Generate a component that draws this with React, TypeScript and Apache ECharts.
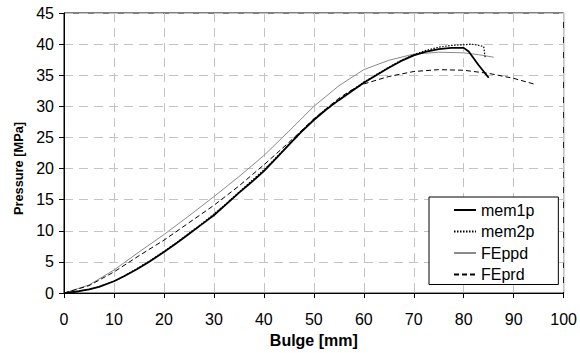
import React, { useEffect, useRef } from "react";
import * as echarts from "echarts";

const xTicks = [0, 10, 20, 30, 40, 50, 60, 70, 80, 90, 100];
const yTicks = [0, 5, 10, 15, 20, 25, 30, 35, 40, 45];
const seriesNames = ["mem1p", "mem2p", "FEppd", "FEprd"];

const mem1p = [
  [0, 0], [3, 0.3], [5, 0.6], [7, 1.0], [10, 1.9], [12, 2.7], [14.5, 3.8], [17, 5.0],
  [20, 6.6], [22.5, 8.0], [25, 9.5], [27.5, 11.0], [30, 12.5], [32.5, 14.3], [35, 16.1],
  [37.5, 17.8], [40, 19.6], [42.5, 21.7], [45, 23.8], [47.5, 25.9], [50, 27.8], [52.5, 29.5],
  [55, 31.0], [57.5, 32.4], [60, 33.8], [62.5, 35.0], [65, 36.2], [67.5, 37.3], [70, 38.2],
  [72.5, 38.8], [75, 39.2], [77.5, 39.4], [80, 39.4], [81, 38.8], [83, 36.6], [85, 34.6],
];

const mem2p = [
  [0, 0], [3, 0.3], [5, 0.6], [7, 1.0], [10, 1.9], [12, 2.7], [14.5, 3.9], [17, 5.1],
  [20, 6.7], [22.5, 8.1], [25, 9.6], [27.5, 11.1], [30, 12.7], [32.5, 14.4], [35, 16.2],
  [37.5, 18.0], [40, 19.8], [42.5, 21.8], [45, 23.9], [47.5, 26.0], [50, 27.9], [52.5, 29.6],
  [55, 31.1], [57.5, 32.5], [60, 33.9], [62.5, 35.1], [65, 36.3], [67.5, 37.4], [70, 38.3],
  [72.5, 39.0], [75, 39.5], [77.5, 39.8], [80, 39.9], [81.5, 40.0], [83, 39.8], [84, 39.6],
  [84.3, 37.8],
];

const feppd = [
  [0, 0], [5, 1.3], [10, 3.7], [15, 6.6], [20, 9.4], [25, 12.4], [30, 15.5], [35, 18.7],
  [40, 22.1], [45, 26.0], [50, 30.0], [55, 33.3], [60, 35.9], [65, 37.4], [70, 38.4],
  [75, 38.7], [80, 38.6], [83, 38.3], [86, 37.9],
];

const feprd = [
  [0, 0], [5, 1.2], [10, 3.4], [15, 6.0], [20, 8.5], [25, 11.3], [30, 14.1], [35, 17.2],
  [40, 20.6], [45, 24.2], [50, 28.0], [55, 31.3], [57.5, 32.6], [60, 33.6], [65, 34.8],
  [70, 35.6], [75, 35.9], [80, 35.8], [85, 35.3], [90, 34.5], [94, 33.6],
];

const FONT = "'Liberation Sans', Arial, sans-serif";

export default function App() {
  const ref = useRef<HTMLDivElement>(null);
  useEffect(() => {
    if (!ref.current) return;
    const chart = echarts.init(ref.current, null, { renderer: "svg" });
    const gridLine = { show: true, lineStyle: { color: "#c4c4c4", width: 1, type: [9, 6] as any } };
    chart.setOption({
      animation: false,
      backgroundColor: "#fff",
      textStyle: { fontFamily: FONT },
      grid: {
        left: 64, top: 13, right: 14, bottom: 57,
        show: true, borderColor: "#000", borderWidth: 1, backgroundColor: "transparent",
      },
      xAxis: {
        type: "value", min: xTicks[0], max: xTicks[xTicks.length - 1], interval: 10,
        name: "Bulge [mm]", nameLocation: "middle", nameGap: 34,
        nameTextStyle: { fontFamily: FONT, fontWeight: "bold", fontSize: 16, color: "#000" },
        axisLine: { show: true, onZero: false, lineStyle: { color: "#000", width: 1 } },
        axisTick: { show: true, length: 5, lineStyle: { color: "#000" } },
        axisLabel: { fontFamily: FONT, fontSize: 16, color: "#000", margin: 18 },
        splitLine: gridLine,
      },
      yAxis: {
        type: "value", min: yTicks[0], max: yTicks[yTicks.length - 1], interval: 5,
        axisLine: { show: true, onZero: false, lineStyle: { color: "#000", width: 1 } },
        axisTick: { show: true, length: 5, lineStyle: { color: "#000" } },
        axisLabel: { fontFamily: FONT, fontSize: 16, color: "#000", margin: 10 },
        splitLine: gridLine,
      },
      legend: {
        orient: "vertical",
        left: 429, top: 197,
        padding: [5, 24, 2, 24],
        backgroundColor: "#fff",
        borderColor: "#000",
        borderWidth: 1,
        itemWidth: 22, itemHeight: 16, itemGap: 5.5, itemTextGap: 4,
        itemStyle: { opacity: 0 },
        textStyle: { fontFamily: FONT, fontSize: 16, color: "#000", lineHeight: 16 },
        data: seriesNames,
      },
      graphic: [
        {
          type: "text", x: 18, y: 168.5, rotation: Math.PI / 2,
          style: {
            text: "Pressure [MPa]", fontFamily: FONT, fontWeight: "bold", fontSize: 12.8,
            fill: "#000", textAlign: "center", textVerticalAlign: "middle",
          },
        },
      ],
      series: [
        {
          name: seriesNames[0], type: "line", data: mem1p, showSymbol: false, symbol: "none",
          lineStyle: { color: "#000", width: 1.8, type: "solid" }, itemStyle: { color: "#000" }, z: 5,
        },
        {
          name: seriesNames[1], type: "line", data: mem2p, showSymbol: false, symbol: "none",
          lineStyle: { color: "#000", width: 1.2, type: [1.5, 1.5] as any }, itemStyle: { color: "#000" }, z: 4,
        },
        {
          name: seriesNames[2], type: "line", data: feppd, showSymbol: false, symbol: "none",
          lineStyle: { color: "#8a8a8a", width: 1, type: "solid" }, itemStyle: { color: "#8a8a8a" }, z: 3,
        },
        {
          name: seriesNames[3], type: "line", data: feprd, showSymbol: false, symbol: "none",
          lineStyle: { color: "#000", width: 1, type: [5, 3] as any }, itemStyle: { color: "#000" }, z: 3,
        },
      ],
    });
    return () => chart.dispose();
  }, []);
  return (
    <div
      ref={ref}
      style={{ position: "fixed", left: 0, top: 0, width: 580, height: 353, background: "#fff" }}
    />
  );
}
